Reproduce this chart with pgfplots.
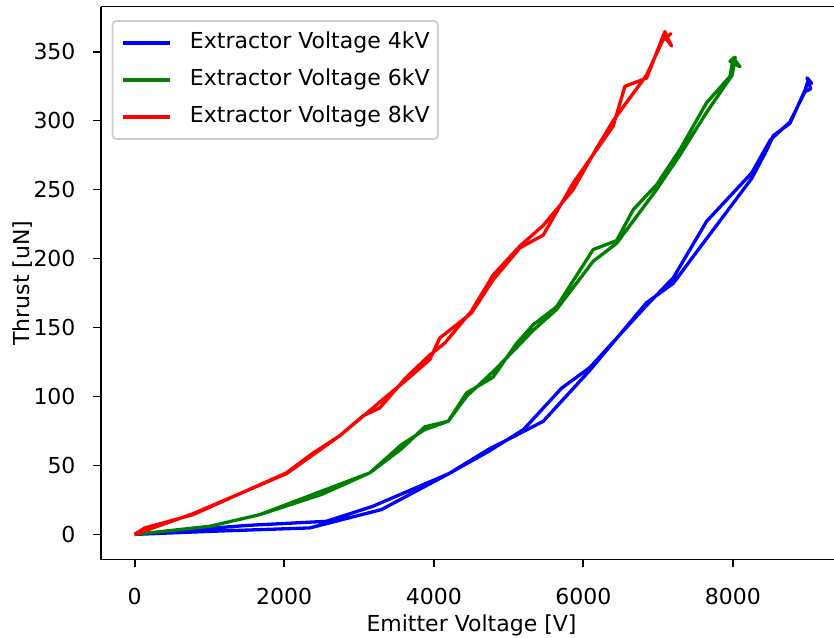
\documentclass[border=0pt]{standalone}
\usepackage{fontspec}
\setmainfont{DejaVu Sans}
\usepackage{pgfplots}
\pgfplotsset{compat=1.18}
\usetikzlibrary{calc}
\definecolor{mplblue}{RGB}{0,0,255}
\definecolor{mplgreen}{RGB}{0,128,0}
\definecolor{mplred}{RGB}{255,0,0}
\newcommand{\mplfont}{\fontsize{11}{13.2}\selectfont}

\begin{document}
\begin{tikzpicture}
\begin{axis}[
  name=ax,
  scale only axis,
  width=366.5pt, height=276.5pt,
  xmin=-450, xmax=9351,
  ymin=-18.2, ymax=382.7,
  axis x line*=box,
  axis y line*=left,
  axis line style={line width=0.9pt},
  xtick={0,2000,...,8000},
  ytick={0,50,...,350},
  xtick pos=left, ytick pos=left,
  tick align=outside,
  major tick length=3.85pt,
  every tick/.style={black, line width=0.9pt},
  scaled x ticks=false,
  /pgf/number format/assume math mode=true,
  /pgf/number format/1000 sep={},
  tick label style={font=\mplfont},
  xticklabel style={anchor=north, inner sep=0pt, yshift=-10.25pt},
  yticklabel style={anchor=east, inner sep=0pt, xshift=-8.7pt},
  xlabel={Emitter Voltage [V]},
  ylabel={Thrust [uN]},
  label style={font=\mplfont},
  xlabel style={at={(axis description cs:0.5055,-0.1293)}, anchor=base},
  ylabel style={at={(axis description cs:-0.0982,0.5)}, anchor=base},
  legend style={
    at={(axis description cs:0.0146,0.9756)}, anchor=north west,
    font=\mplfont,
    draw=black!20, line width=0.9pt, rounded corners=2pt,
    fill=white, fill opacity=0.8, text opacity=1,
    inner xsep=4.2pt, inner ysep=5.75pt,
    row sep=7.9pt,
    nodes={inner sep=0pt, text height=8pt, text depth=2.6pt},
    /tikz/every odd column/.append style={column sep=9pt},
  },
  legend cell align=left,
  legend image code/.code={\draw[#1, line width=2pt] (0pt,0pt) -- (23.5pt,0pt);},
]
% 4 kV: ramp up, then back down
\addplot[mplblue, line width=1.65pt, line join=round] coordinates {
  (0,0) (1003,2.2) (2341,4.7) (3300,18) (4200,44) (4727,61.5) (5106,72)
  (5463,82) (6087,119) (6845,168) (7202,182) (7469,201.5) (8250,258)
  (8451,278.5) (8539,289) (8762,298) (8963,322) (9008,329.5)
  (9053,327) (8990,331) (9040,323) (8963,321)
  (8762,299) (8500,286) (8250,262) (7648,227) (7202,186) (6845,166)
  (6087,121) (5708,106) (5200,76) (4727,60) (4200,44) (3185,20.4)
  (2565,9.5) (1500,6.5) (0,0)
};
\addlegendentry{Extractor Voltage 4kV}
% 6 kV
\addplot[mplgreen, line width=1.65pt, line join=round] coordinates {
  (1003,5.9) (1672,14.3) (3144,44.6) (3567,65) (3880,76) (4192,82)
  (4437,102.5) (4793,114) (5100,138) (5329,152) (5641,165) (6131,206.5)
  (6444,213) (6667,235.5) (6979,253.5) (7291,279) (7648,313) (7960,332)
  (8004,345.5) (8094,339) (7960,343) (8030,346) (7990,333)
  (7648,306) (7291,275) (6979,250) (6444,211) (6131,198) (5641,163)
  (5329,148) (5100,135) (4793,118) (4437,100) (4192,82) (3880,78)
  (3567,62) (3144,44.6) (2500,29) (1672,14.3) (1003,5.9) (0,0)
};
\addlegendentry{Extractor Voltage 6kV}
% 8 kV
\addplot[mplred, line width=1.65pt, line join=round] coordinates {
  (0,0) (134,4.7) (780,14.3) (2029,44.6) (2386,59) (2742,71.5) (3055,85.7)
  (3367,100) (3634,112) (3946,126.7) (4080,142.4) (4504,160.5)
  (4793,184.6) (5151,207.7) (5463,217) (5864,254.7) (6177,278.9)
  (6399,296) (6555,324.8) (6845,330.8) (7090,364.5)
  (7180,354) (7100,360) (7170,363) (7060,358)
  (6845,333) (6400,300) (6177,280) (5864,250) (5463,224) (5151,209)
  (4793,188) (4504,162) (4147,138.7) (3946,130) (3634,114) (3278,91.7)
  (3055,86) (2742,71.5) (2029,44) (780,15) (0,0)
};
\addlegendentry{Extractor Voltage 8kV}
\end{axis}
\pgfresetboundingbox
\path[use as bounding box] ($(ax.south west)+(-50.5pt,-38.75pt)$)
  rectangle ($(ax.north east)+(0pt,3.25pt)$);
\end{tikzpicture}
\end{document}
